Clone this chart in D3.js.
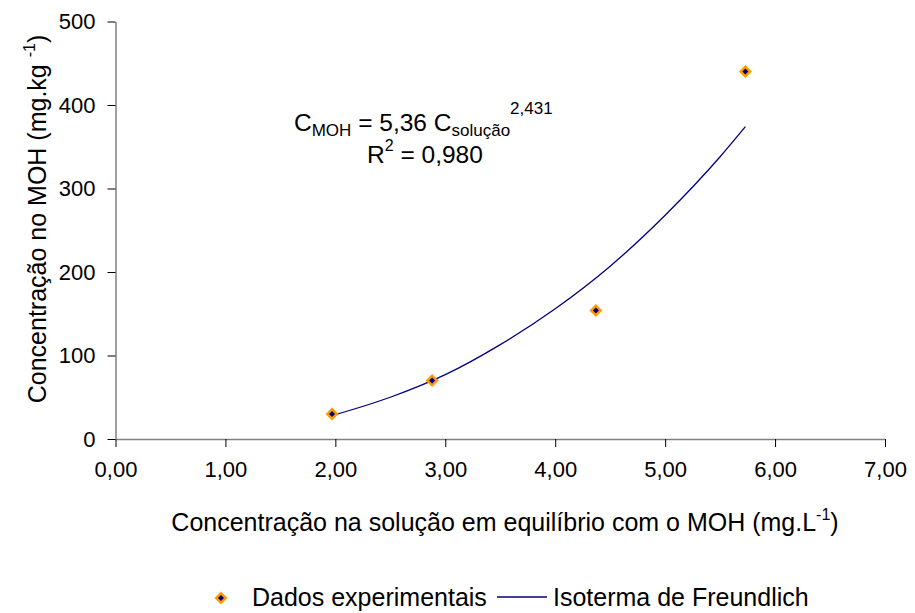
<!DOCTYPE html>
<html>
<head>
<meta charset="utf-8">
<script src="https://cdn.jsdelivr.net/npm/d3@7"></script>
<style>
    body { margin: 0; background: #fff; }
    svg text { font-family: "Liberation Sans", Arial, sans-serif; fill: #000; }
    .axis .domain { stroke: #808080; stroke-width: 1.5; }
    .axis .tick line { stroke: #000; stroke-width: 1; }
    .axis .tick text { font-size: 22px; }
</style>
</head>
<body>
<script>
// Experimental points
const dadosX = [1.97, 2.88, 4.37, 5.73];
const dadosY = [30, 70, 154, 440];

// Freundlich curve
const curvaX = [1.97, 2.5, 3.0, 3.5, 4.0, 4.5, 5.0, 5.5, 5.73];
const curvaY = [28, 50, 77, 113, 156, 207, 268, 338, 374];

const xTicks = [0, 1, 2, 3, 4, 5, 6, 7];
const yTicks = [0, 100, 200, 300, 400, 500];

const width = 915,
    height = 613;
const plot = { left: 115.5, right: 885, top: 21.5, bottom: 439 };

const x = d3.scaleLinear().domain([0, 7]).range([plot.left, plot.right]);
const y = d3.scaleLinear().domain([0, 500]).range([plot.bottom, plot.top]);

const fmt = d => d3.format('.2f')(d).replace('.', ',');

let svg = d3
    .select('body')
    .append('svg')
    .attr('width', width)
    .attr('height', height);

// Axes
svg.append('g')
    .attr('class', 'axis')
    .attr('transform', `translate(0, ${plot.bottom})`)
    .call(d3.axisBottom(x).tickValues(xTicks).tickFormat(fmt).tickSize(8).tickSizeOuter(0).tickPadding(14));

svg.append('g')
    .attr('class', 'axis')
    .attr('transform', `translate(${plot.left}, 0)`)
    .call(d3.axisLeft(y).tickValues(yTicks).tickFormat(d3.format('d')).tickSize(8).tickSizeOuter(0).tickPadding(12));

// Axis titles
let xLabel = svg.append('text')
    .attr('text-anchor', 'middle')
    .attr('x', 505)
    .attr('y', 531)
    .style('font-size', '25px');
xLabel.append('tspan').text('Concentração na solução em equilíbrio com o MOH (mg.L');
xLabel.append('tspan').attr('dy', -11).style('font-size', '16px').text('-1');
xLabel.append('tspan').attr('dy', 11).text(')');

let yLabel = svg.append('text')
    .attr('text-anchor', 'middle')
    .attr('transform', 'translate(46, 219) rotate(-90)')
    .style('font-size', '25px');
yLabel.append('tspan').text('Concentração no MOH (mg.kg ');
yLabel.append('tspan').attr('dy', -11).style('font-size', '16px').text('-1');
yLabel.append('tspan').attr('dy', 11).text(')');

// Trend line
const line = d3.line()
    .x((d, i) => x(curvaX[i]))
    .y(d => y(d))
    .curve(d3.curveMonotoneX);

svg.append('path')
    .datum(curvaY)
    .attr('fill', 'none')
    .attr('stroke', '#000080')
    .attr('stroke-width', 1.3)
    .attr('d', line);

// Markers
function diamond(g, cx, cy) {
    g.append('path')
        .attr('d', `M${cx},${cy - 6.5}L${cx + 6.5},${cy}L${cx},${cy + 6.5}L${cx - 6.5},${cy}Z`)
        .attr('fill', '#FF9900');
    g.append('path')
        .attr('d', `M${cx},${cy - 3}L${cx + 3},${cy}L${cx},${cy + 3}L${cx - 3},${cy}Z`)
        .attr('fill', '#000080');
}

let pts = svg.append('g');
dadosX.forEach((d, i) => diamond(pts, x(d), y(dadosY[i])));

// Equation
let eq = svg.append('text').attr('x', 294).attr('y', 131).style('font-size', '24.5px');
eq.append('tspan').text('C');
eq.append('tspan').attr('dy', 5).style('font-size', '17px').text('MOH');
eq.append('tspan').attr('dy', -5).text(' = 5,36 C');
eq.append('tspan').attr('dy', 5).style('font-size', '17px').text('solução');
eq.append('tspan').attr('dy', -22).style('font-size', '17px').text('2,431');

let r2 = svg.append('text').attr('x', 367).attr('y', 163).style('font-size', '24.5px');
r2.append('tspan').text('R');
r2.append('tspan').attr('dy', -12).style('font-size', '16px').text('2');
r2.append('tspan').attr('dy', 12).text(' = 0,980');

// Legend
let legend = svg.append('g');
diamond(legend, 221, 598);
legend.append('text').attr('x', 252).attr('y', 606).style('font-size', '25px').text('Dados experimentais');
legend.append('line')
    .attr('x1', 497).attr('x2', 547)
    .attr('y1', 597).attr('y2', 597)
    .attr('stroke', '#000080')
    .attr('stroke-width', 1.3);
legend.append('text').attr('x', 553).attr('y', 606).style('font-size', '25px').text('Isoterma de Freundlich');
</script>
</body>
</html>
